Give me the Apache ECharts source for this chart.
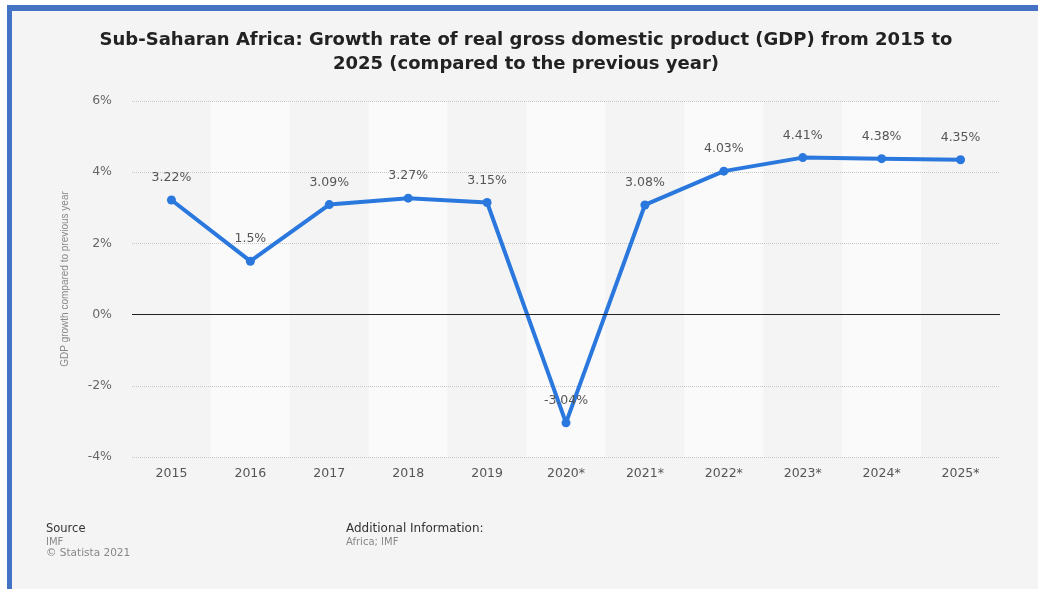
<!DOCTYPE html>
<html>
<head>
<meta charset="utf-8">
<script src="https://cdn.jsdelivr.net/npm/echarts@6/dist/echarts.min.js"></script>
<style>
  html, body { margin: 0; padding: 0; background: #ffffff; }
  #chart { width: 1038px; height: 589px; }
</style>
</head>
<body>
<div id="chart"></div>
<script>
// Sub-Saharan Africa real GDP growth, year over year (%)
const years = ['2015', '2016', '2017', '2018', '2019', '2020*', '2021*', '2022*', '2023*', '2024*', '2025*'];
const growth = [3.22, 1.5, 3.09, 3.27, 3.15, -3.04, 3.08, 4.03, 4.41, 4.38, 4.35];
const yTicks = [-4, -2, 0, 2, 4, 6];

const FONT = '"DejaVu Sans", "Liberation Sans", Arial, sans-serif';
const NARROW = '"Liberation Sans", Arial, sans-serif';
const BLUE_FRAME = '#4472c4';
const LINE_BLUE = '#2a78de';

const chart = echarts.init(document.getElementById('chart'), null, { renderer: 'canvas' });

chart.setOption({
  backgroundColor: '#f4f4f4',
  animation: false,
  textStyle: { fontFamily: FONT },
  grid: { left: 132, right: 38, top: 101, bottom: 132, containLabel: false },
  xAxis: {
    type: 'category',
    data: years,
    boundaryGap: true,
    z: 0,
    axisLine: { show: false },
    axisTick: { show: false },
    axisLabel: { color: '#555555', fontSize: 12.5, margin: 10, fontFamily: FONT },
    splitArea: { show: true, areaStyle: { color: ['#f4f4f4', '#fafafa'] } }
  },
  yAxis: {
    type: 'value',
    min: yTicks[0],
    max: yTicks[yTicks.length - 1],
    interval: 2,
    z: 1,
    name: 'GDP growth compared to previous year',
    nameLocation: 'middle',
    nameGap: 62,
    nameTextStyle: { color: '#888888', fontSize: 10, fontFamily: NARROW },
    axisLine: { show: false },
    axisTick: { show: false },
    axisLabel: {
      color: '#666666', fontSize: 12.5, margin: 20, fontFamily: FONT,
      formatter: v => v + '%'
    },
    splitLine: { show: true, lineStyle: { color: '#c8c8c8', type: 'dotted', width: 1 } }
  },
  series: [{
    type: 'line',
    data: growth,
    symbol: 'circle',
    symbolSize: 9,
    lineStyle: { color: LINE_BLUE, width: 4 },
    itemStyle: { color: LINE_BLUE },
    label: {
      show: true,
      position: 'top',
      distance: 11,
      color: '#555555',
      fontSize: 12.5,
      fontFamily: FONT,
      formatter: p => p.value + '%'
    },
    markLine: {
      silent: true,
      symbol: 'none',
      label: { show: false },
      lineStyle: { color: '#222222', type: 'solid', width: 1 },
      data: [{ yAxis: 0 }]
    },
    z: 3
  }],
  graphic: [
    // white margin and blue frame edges
    { type: 'rect', shape: { x: 0, y: 0, width: 1038, height: 5 }, style: { fill: '#ffffff' }, silent: true },
    { type: 'rect', shape: { x: 0, y: 0, width: 7, height: 589 }, style: { fill: '#ffffff' }, silent: true },
    { type: 'rect', shape: { x: 7, y: 5, width: 1031, height: 6 }, style: { fill: BLUE_FRAME }, silent: true },
    { type: 'rect', shape: { x: 7, y: 5, width: 5, height: 584 }, style: { fill: BLUE_FRAME }, silent: true },
    // title, two centred lines
    { type: 'text', x: 526, y: 40, style: {
        text: 'Sub-Saharan Africa: Growth rate of real gross domestic product (GDP) from 2015 to',
        fill: '#222222', font: 'bold 18px ' + FONT, textAlign: 'center', textVerticalAlign: 'middle' } },
    { type: 'text', x: 526, y: 64, style: {
        text: '2025 (compared to the previous year)',
        fill: '#222222', font: 'bold 18px ' + FONT, textAlign: 'center', textVerticalAlign: 'middle' } },
    // footer
    { type: 'text', left: 46, top: 523, style: { text: 'Source', fill: '#333333', font: '11.5px ' + FONT } },
    { type: 'text', left: 46, top: 537, style: { text: 'IMF', fill: '#888888', font: '10px ' + FONT } },
    { type: 'text', left: 46, top: 548, style: { text: '© Statista 2021', fill: '#888888', font: '10.5px ' + FONT } },
    { type: 'text', left: 346, top: 523, style: { text: 'Additional Information:', fill: '#333333', font: '12px ' + FONT } },
    { type: 'text', left: 346, top: 537, style: { text: 'Africa; IMF', fill: '#888888', font: '10px ' + FONT } }
  ]
});
</script>
</body>
</html>
